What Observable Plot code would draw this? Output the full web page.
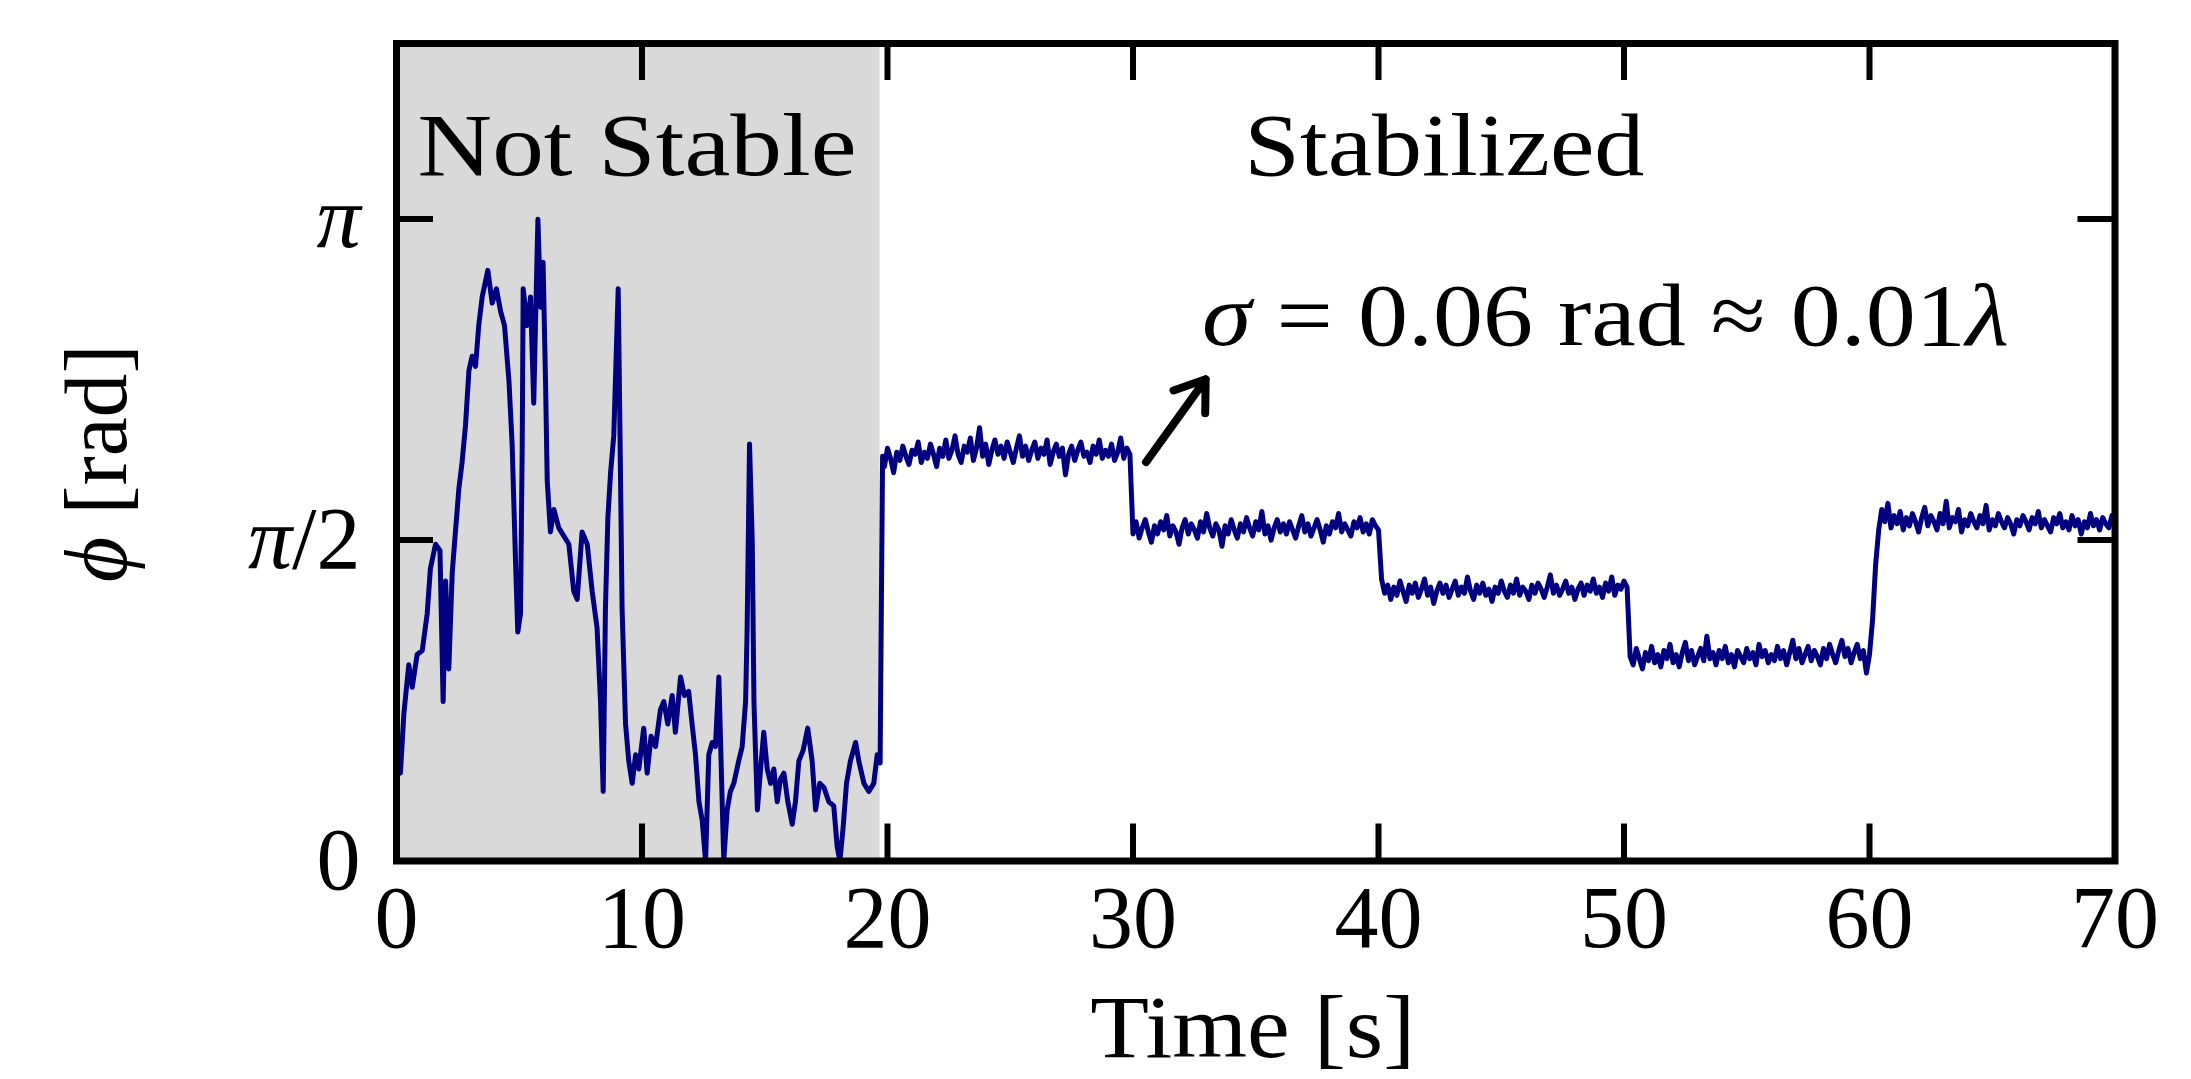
<!DOCTYPE html>
<html><head><meta charset="utf-8">
<script src="https://cdn.jsdelivr.net/npm/d3@7"></script>
<script src="https://cdn.jsdelivr.net/npm/@observablehq/plot@0.6"></script>
<style>html,body{margin:0;padding:0;background:#fff;} svg{display:block;}</style>
</head><body>
<script>
// ---- data ----
const roughTime = [0,0.16,0.3,0.5,0.64,0.84,1.05,1.25,1.38,1.59,
  1.77,1.9,2.0,2.13,2.27,2.4,2.54,2.67,2.81,2.95,
  3.08,3.22,3.35,3.49,3.72,3.9,4.07,4.24,4.4,4.58,
  4.71,4.85,4.94,5.05,5.12,5.16,5.32,5.46,5.59,5.66,
  5.76,5.87,5.97,6.07,6.14,6.27,6.41,6.61,6.82,7.02,
  7.22,7.36,7.56,7.77,7.97,8.17,8.31,8.42,8.51,8.61,
  8.72,8.85,8.94,9.03,9.1,9.19,9.33,9.46,9.6,9.74,
  9.87,10.07,10.21,10.37,10.55,10.75,10.89,11.05,11.23,11.36,
  11.57,11.73,11.9,12.04,12.18,12.32,12.45,12.59,12.72,12.86,
  12.99,13.13,13.23,13.33,13.47,13.6,13.74,13.94,14.08,14.22,
  14.28,14.38,14.49,14.56,14.7,14.83,14.96,15.1,15.24,15.37,
  15.51,15.64,15.78,15.94,16.12,16.25,16.39,16.56,16.75,16.93,
  17.07,17.24,17.41,17.61,17.81,17.95,18.06,18.19,18.33,18.49,
  18.7,18.83,19.04,19.24,19.44,19.58,19.7,19.76,19.8];
const roughPhase = [0.56,0.43,0.72,0.96,0.85,1.01,1.03,1.21,1.43,1.55,
  1.52,0.78,1.37,0.94,1.41,1.61,1.82,1.95,2.13,2.40,
  2.47,2.42,2.62,2.76,2.89,2.73,2.80,2.69,2.62,2.35,
  2.04,1.46,1.12,1.21,2.02,2.80,2.62,2.76,2.24,2.62,
  3.14,2.71,2.93,2.35,1.86,1.61,1.72,1.63,1.59,1.55,
  1.32,1.28,1.61,1.55,1.32,1.14,0.78,0.34,1.23,1.68,
  1.90,2.08,2.44,2.80,2.13,1.23,0.67,0.49,0.38,0.52,
  0.45,0.65,0.43,0.61,0.56,0.74,0.78,0.67,0.81,0.63,
  0.90,0.81,0.83,0.67,0.52,0.29,0.20,0.0,0.52,0.58,
  0.56,0.90,0.45,0.0,0.25,0.34,0.38,0.49,0.56,0.78,
  1.12,2.04,1.57,0.78,0.25,0.45,0.63,0.45,0.38,0.45,
  0.29,0.40,0.43,0.29,0.18,0.29,0.49,0.54,0.65,0.49,
  0.25,0.38,0.36,0.29,0.27,0.07,0.0,0.16,0.38,0.49,
  0.58,0.49,0.38,0.34,0.38,0.52,0.48,1.40,1.98];

// stabilized part, sampled every 0.125 s from 19.875 s
const lockedStart = 19.875;
const lockedStep = 0.125;
const lockedPhase = [
  1.93,2.02,1.97,1.90,2.00,1.96,2.03,1.98,1.94,2.01,
  1.99,2.05,1.95,2.00,1.97,2.04,1.99,1.93,2.02,1.98,
  2.06,1.97,2.01,2.08,1.99,1.95,2.03,2.00,2.07,1.96,
  2.02,2.12,1.98,2.04,1.94,2.01,2.06,1.99,2.03,1.97,
  2.05,2.00,1.95,2.02,2.08,1.98,2.03,1.96,2.01,2.05,
  1.97,2.02,1.99,2.06,1.94,2.00,2.04,1.98,2.02,1.89,
  1.99,2.03,1.96,2.01,2.05,1.98,2.00,1.95,2.03,1.99,
  2.06,1.97,2.01,1.98,2.04,1.96,2.00,2.07,1.97,2.02,1.99,
  1.60,1.66,1.58,1.63,1.67,1.61,1.56,1.64,1.60,1.66,
  1.62,1.69,1.59,1.64,1.61,1.55,1.63,1.67,1.60,1.65,
  1.62,1.58,1.66,1.61,1.70,1.63,1.59,1.65,1.62,1.54,
  1.64,1.60,1.67,1.62,1.58,1.65,1.61,1.68,1.63,1.59,
  1.66,1.62,1.71,1.60,1.64,1.57,1.63,1.67,1.61,1.65,
  1.60,1.66,1.62,1.58,1.64,1.69,1.61,1.65,1.59,1.63,
  1.67,1.62,1.56,1.64,1.60,1.66,1.63,1.70,1.61,1.65,
  1.62,1.59,1.66,1.63,1.68,1.61,1.65,1.60,1.67,1.64,1.62,
  1.38,1.31,1.35,1.28,1.34,1.30,1.37,1.32,1.27,1.35,
  1.31,1.36,1.29,1.33,1.38,1.30,1.34,1.26,1.32,1.36,
  1.31,1.35,1.29,1.33,1.37,1.30,1.34,1.31,1.39,1.32,
  1.28,1.35,1.31,1.36,1.30,1.33,1.27,1.34,1.31,1.37,
  1.32,1.29,1.35,1.31,1.38,1.30,1.34,1.32,1.28,1.35,
  1.31,1.36,1.33,1.29,1.34,1.40,1.31,1.35,1.30,1.33,
  1.37,1.31,1.34,1.28,1.33,1.36,1.30,1.35,1.32,1.38,
  1.31,1.34,1.29,1.36,1.32,1.39,1.30,1.35,1.33,1.37,1.34,
  1.00,0.96,1.04,0.99,0.94,1.02,0.98,1.05,0.97,1.01,
  0.95,1.03,0.99,1.06,0.97,1.01,0.95,1.02,1.07,0.98,
  1.03,0.96,1.00,1.04,0.98,1.10,0.99,1.02,0.96,1.03,
  0.99,1.05,0.97,1.01,0.95,1.03,1.00,0.97,1.04,0.99,
  1.02,0.96,1.06,1.00,1.03,0.97,1.01,0.98,1.05,0.99,
  1.03,0.96,1.02,1.08,0.99,1.04,0.97,1.01,1.05,0.98,
  1.03,1.00,0.96,1.04,0.99,1.06,1.01,0.97,1.03,1.08,
  1.00,1.04,0.97,1.02,1.06,0.99,1.03,0.92,1.01,
  1.18,1.45,1.62,
  1.72,1.66,1.75,1.63,1.69,1.65,1.71,1.62,1.68,1.64,
  1.70,1.66,1.61,1.68,1.73,1.64,1.69,1.66,1.62,1.70,
  1.65,1.76,1.63,1.68,1.66,1.72,1.61,1.67,1.64,1.70,
  1.66,1.63,1.69,1.65,1.74,1.62,1.67,1.64,1.70,1.66,
  1.63,1.68,1.65,1.60,1.67,1.64,1.69,1.66,1.62,1.68,
  1.65,1.71,1.63,1.67,1.64,1.61,1.68,1.65,1.70,1.63,
  1.66,1.62,1.69,1.64,1.67,1.60,1.66,1.63,1.70,1.64,
  1.67,1.62,1.68,1.65,1.63,1.69,1.64];

const xDomain = [0, 70];
const yDomain = [0, 4];
const xTicks = [0, 10, 20, 30, 40, 50, 60, 70];
const yTicks = [0, Math.PI / 2, Math.PI];
const yTickLabels = ["0", "π/2", "π"];
const unstableSpan = [0, 19.7];
const regionLabels = ["Not Stable", "Stabilized"];
const noteText = "σ = 0.06 rad ≈ 0.01λ";
const xLabel = "Time [s]";
const yLabel = "ϕ [rad]";

// ---- build table ----
const series = roughTime.map((t, i) => ({t, phi: roughPhase[i]}))
  .concat(lockedPhase.map((p, i) => ({t: lockedStart + i * lockedStep, phi: p})));

// ---- layout / style ----
const W = 2191, H = 1079;
const mL = 396, mR = 76.5, mT = 43, mB = 218.5;
const frameW = W - mL - mR, frameH = H - mT - mB;
const tickLen = 37;
const font = "'Liberation Serif', 'DejaVu Serif', serif";
const fs = 88;

const annotations = [
  {text: regionLabels[0], x: 9.8, y: 3.357},
  {text: regionLabels[1], x: 42.68, y: 3.357},
  {text: noteText, x: 49.25, y: 2.527}
];
const arrowSpec = [{x1: 30.53, y1: 1.952, x2: 32.96, y2: 2.357}];

const svg = Plot.plot({
  width: W, height: H,
  marginLeft: mL, marginRight: mR, marginTop: mT, marginBottom: mB,
  style: {fontFamily: font, fontSize: fs + "px", background: "#fff", color: "#000"},
  x: {domain: xDomain, label: null},
  y: {domain: yDomain, label: null},
  marks: [
    Plot.rect([unstableSpan], {x1: d => d[0], x2: d => d[1], y1: yDomain[0], y2: yDomain[1], fill: "#d9d9d9"}),
    Plot.line(series, {x: "t", y: "phi", stroke: "#000080", strokeWidth: 5, clip: true}),
    Plot.arrow(arrowSpec, {x1: "x1", y1: "y1", x2: "x2", y2: "y2", stroke: "#000", strokeWidth: 8, headLength: 7, headAngle: 70}),
    Plot.text(annotations, {x: "x", y: "y", text: "text", textAnchor: "middle", lineAnchor: "bottom", fontSize: fs, fill: "#000"}),
    Plot.frame({stroke: "#000", strokeWidth: 7}),
    Plot.tickX(xTicks, {x: d => d, insetTop: frameH - tickLen, stroke: "#000", strokeWidth: 6}),
    Plot.tickX(xTicks, {x: d => d, insetBottom: frameH - tickLen, stroke: "#000", strokeWidth: 6}),
    Plot.tickY(yTicks, {y: d => d, insetRight: frameW - tickLen, stroke: "#000", strokeWidth: 6}),
    Plot.tickY(yTicks, {y: d => d, insetLeft: frameW - tickLen, stroke: "#000", strokeWidth: 6}),
    Plot.axisX({ticks: xTicks, tickSize: 0, tickPadding: 24, tickFormat: d => String(d), label: null, fontSize: fs}),
    Plot.axisY({ticks: yTicks, tickSize: 0, tickPadding: 36, tickFormat: d => yTickLabels[yTicks.indexOf(d)], label: null, fontSize: fs}),
    Plot.text([xLabel], {frameAnchor: "bottom", dx: -3, dy: 196, lineAnchor: "bottom", textAnchor: "middle", fontSize: fs, fill: "#000"}),
    Plot.text([yLabel], {frameAnchor: "left", dx: -299, dy: 11, rotate: -90, lineAnchor: "middle", textAnchor: "middle", fontSize: fs, fill: "#000"})
  ]
});

// stretch a few long labels to the widths of the original typesetting,
// and set the Greek math symbols in italic as in the original
const widths = {"Not Stable": 439, "Stabilized": 400, [noteText]: 807, [xLabel]: 325, [yLabel]: 238};
const greek = /([σλπϕ])/;
d3.select(svg).selectAll("text").each(function () {
  const content = this.textContent;
  const sel = d3.select(this);
  if (greek.test(content) && this.children.length === 0) {
    sel.text(null);
    content.split(greek).filter(s => s.length).forEach(part => {
      const ts = sel.append("tspan").text(part);
      if (greek.test(part)) ts.attr("font-style", "italic");
    });
  }
  const w = widths[content];
  if (w) sel.attr("textLength", w).attr("lengthAdjust", "spacingAndGlyphs");
});
document.body.appendChild(svg);
</script>
</body></html>
